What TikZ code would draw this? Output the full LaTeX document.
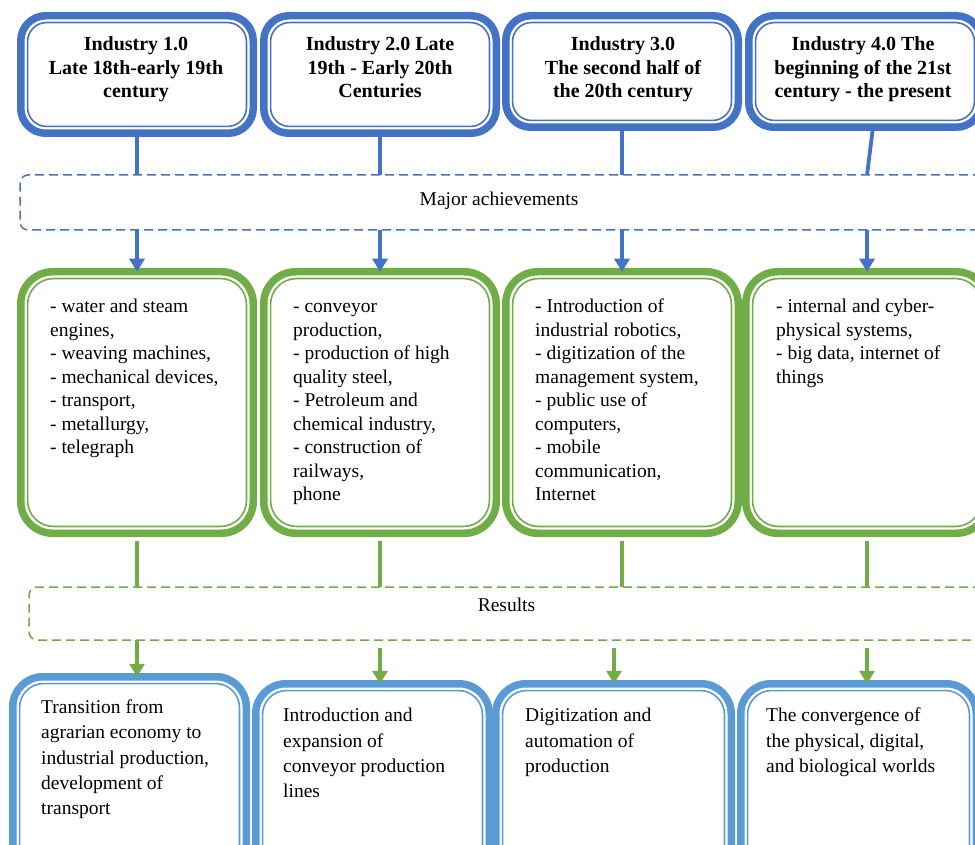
\documentclass[tikz,border=0pt]{standalone}
\usepackage{fontspec}
\setmainfont{Liberation Serif}
\usetikzlibrary{arrows.meta}
\definecolor{topblue}{HTML}{4472C4}
\definecolor{grn}{HTML}{70AD47}
\definecolor{botblue}{HTML}{5B9BD5}
% #1 name, #2 x1, #3 y1, #4 x2, #5 y2, #6 colour, #7 outer radius, #8 inner radius
\newcommand\dblframe[8]{%
  \node[draw=#6, line width=7.5pt, rounded corners=#7pt, outer sep=0pt, inner sep=0pt,
        minimum width={#4-#2-7.5}, minimum height={#5-#3-7.5}] (#1) at ({(#2+#4)/2},{(#3+#5)/2}) {};
  \draw[#6, line width=1.6pt, rounded corners=#8pt] ([shift={(6.8,6.8)}]#1.north west) rectangle ([shift={(-6.8,-6.8)}]#1.south east);
}
\tikzset{
  conn/.style={line width=3.8pt},
  tarr/.style={conn, -{Triangle[width=15pt,length=13pt]}},
  dashbox/.style={draw=#1, line width=1.5pt, dash pattern=on 9pt off 5pt, rounded corners=8pt, inner sep=0pt, outer sep=0pt},
  hdr/.style={font=\bfseries\fontsize{20}{23.5}\selectfont, align=center, anchor=north, inner sep=0pt},
  body/.style={font=\fontsize{19.5}{23.5}\selectfont, align=left, anchor=north west, inner sep=0pt},
  restext/.style={font=\fontsize{19.5}{25.3}\selectfont, align=left, anchor=north west, inner sep=0pt},
  lbl/.style={font=\fontsize{19.5}{23.5}\selectfont, anchor=base, inner sep=0pt},
}
\begin{document}
\begin{tikzpicture}[x=1pt,y=-1pt]
\useasboundingbox (0,0) rectangle (975,845);
\fill[white] (0,0) rectangle (975,845);
\begin{scope}
\clip (0,0) rectangle (975,845);
% top boxes
\dblframe{h1}{17}{12}{257}{137}{topblue}{25}{19}
\dblframe{h2}{260}{12}{500}{137}{topblue}{25}{19}
\dblframe{h3}{502}{12}{742}{131}{topblue}{25}{19}
\dblframe{h4}{745}{12}{985}{131}{topblue}{25}{19}
% green boxes
\dblframe{g1}{17}{268}{257}{537}{grn}{32}{26}
\dblframe{g2}{260}{268}{500}{537}{grn}{32}{26}
\dblframe{g3}{502}{268}{742}{537}{grn}{32}{26}
\dblframe{g4}{742}{268}{992}{537}{grn}{32}{26}
% bottom boxes
\dblframe{b1}{9}{673}{250}{885}{botblue}{30}{24}
\dblframe{b2}{252}{680}{493}{885}{botblue}{30}{24}
\dblframe{b3}{492}{680}{735}{885}{botblue}{30}{24}
\dblframe{b4}{737}{680}{980}{885}{botblue}{30}{24}
% dashed bands
\node[dashbox=topblue, minimum width=970, minimum height=55] (ach) at (505,202.5) {};
\node[dashbox=grn, minimum width=961, minimum height=53] (res) at (509.5,613.5) {};
\node[lbl] (acht) at (499,206) {Major achievements};
\node[lbl] (rest) at (506.5,611.7) {Results};
% blue connectors
\draw[conn, topblue] (h1.south) -- (h1.south |- ach.north);
\draw[conn, topblue] (h2.south) -- (h2.south |- ach.north);
\draw[conn, topblue] (h3.south) -- (h3.south |- ach.north);
\draw[conn, topblue] ([xshift=8pt]h4.south) -- ([xshift=2pt]h4.south |- ach.north);
\draw[tarr, topblue] (ach.south -| g1.north) -- (g1.north);
\draw[tarr, topblue] (ach.south -| g2.north) -- (g2.north);
\draw[tarr, topblue] (ach.south -| g3.north) -- (g3.north);
\draw[tarr, topblue] (ach.south -| g4.north) -- (g4.north);
% green connectors
\draw[conn, grn] ([yshift=-8pt]g1.south) -- (g1.south |- res.north);
\draw[conn, grn] ([yshift=-8pt]g2.south) -- (g2.south |- res.north);
\draw[conn, grn] ([yshift=-8pt]g3.south) -- (g3.south |- res.north);
\draw[conn, grn] ([yshift=-8pt]g4.south) -- (g4.south |- res.north);
\path (res.south -| g1.south) coordinate (r1s);
\path (g1.south |- b1.north) coordinate (r1e);
\path (res.south -| g2.south) ++(0,8) coordinate (r2s);
\path (g2.south |- b2.north) coordinate (r2e);
\path (res.south -| g3.south) ++(-8,8) coordinate (r3s);
\path (g3.south |- b3.north) ++(-8,0) coordinate (r3e);
\path (res.south -| g4.south) ++(0,8) coordinate (r4s);
\path (g4.south |- b4.north) coordinate (r4e);
\draw[tarr, grn] (r1s) -- (r1e);
\draw[tarr, grn] (r2s) -- (r2e);
\draw[tarr, grn] (r3s) -- (r3e);
\draw[tarr, grn] (r4s) -- (r4e);
% header texts
\node[hdr] (h1t) at (136,34) {\strut Industry 1.0\\Late 18th-early 19th\\century};
\node[hdr] (h2t) at (380,34) {\strut Industry 2.0 Late\\19th - Early 20th\\Centuries};
\node[hdr] (h3t) at (623,34) {\strut Industry 3.0\\The second half of\\the 20th century};
\node[hdr] (h4t) at (863,34) {\strut Industry 4.0 The\\beginning of the 21st\\century - the present};
% achievements texts
\node[body] (g1t) at (50,296) {\strut - water and steam\\engines,\\- weaving machines,\\- mechanical devices,\\- transport,\\- metallurgy,\\- telegraph};
\node[body] (g2t) at (293,296) {\strut - conveyor\\production,\\- production of high\\quality steel,\\- Petroleum and\\chemical industry,\\- construction of\\railways,\\phone};
\node[body] (g3t) at (535,296) {\strut - Introduction of\\industrial robotics,\\- digitization of the\\management system,\\- public use of\\computers,\\- mobile\\communication,\\Internet};
\node[body] (g4t) at (776,296) {\strut - internal and cyber-\\physical systems,\\- big data, internet of\\things};
% results texts
\node[restext] (b1t) at (41,695.6) {\strut Transition from\\agrarian economy to\\industrial production,\\development of\\transport};
\node[restext] (b2t) at (283,704) {\strut Introduction and\\expansion of\\conveyor production\\lines};
\node[restext] (b3t) at (525,704) {\strut Digitization and\\automation of\\production};
\node[restext] (b4t) at (766,704) {\strut The convergence of\\the physical, digital,\\and biological worlds};
\end{scope}
\end{tikzpicture}
\end{document}
